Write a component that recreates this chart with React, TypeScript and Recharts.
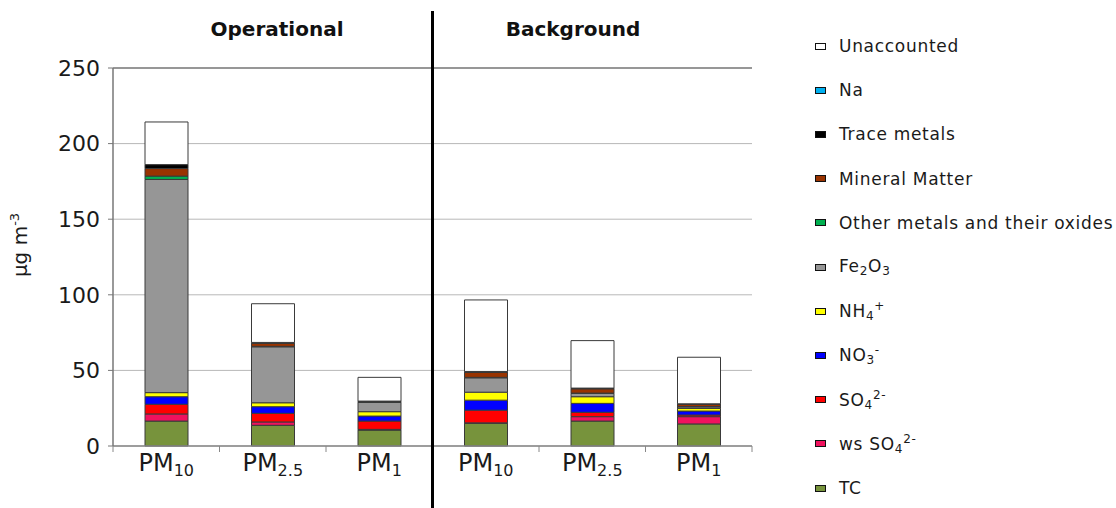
import React from "react";
import {
  BarChart,
  Bar,
  XAxis,
  YAxis,
  CartesianGrid,
  ReferenceLine,
} from "recharts";

// sites / size fractions, left to right
const categories = ["op-PM10", "op-PM2.5", "op-PM1", "bg-PM10", "bg-PM2.5", "bg-PM1"];
const sizeSubs = ["10", "2.5", "1", "10", "2.5", "1"];
const groupTitles = ["Operational", "Background"];
const yTicks = [0, 50, 100, 150, 200, 250];

// µg m-3
const tc = [16.5, 13.7, 10.5, 15, 16.5, 14.6];
const wsSo4 = [4.7, 2.2, 0.5, 0.3, 2.9, 4.8];
const so4 = [6.4, 5.7, 5.5, 8.4, 2.9, 1.1];
const no3 = [5.0, 4.4, 3.3, 6.6, 5.9, 2.6];
const nh4 = [2.7, 2.6, 2.9, 5.3, 4.4, 1.8];
const fe2o3 = [141, 37, 6.2, 9.5, 2.2, 1.0];
const otherMetals = [2.2, 0.3, 0.2, 0.3, 0.2, 0.2];
const mineral = [5.0, 2.0, 0.3, 3.3, 2.8, 1.5];
const traceMetals = [2.6, 0.6, 0.3, 0.6, 0.5, 0.3];
const na = [0, 0, 0, 0, 0, 0];
const unaccounted = [28.2, 25.6, 15.7, 47.3, 31.4, 30.8];

// bottom of the stack first
const series = [
  { key: "tc", label: "TC", color: "#77933C", values: tc },
  { key: "wsSo4", label: "ws SO_4^2-", color: "#F0125E", values: wsSo4 },
  { key: "so4", label: "SO_4^2-", color: "#FF0000", values: so4 },
  { key: "no3", label: "NO_3^-", color: "#0000FF", values: no3 },
  { key: "nh4", label: "NH_4^+", color: "#FFFF00", values: nh4 },
  { key: "fe2o3", label: "Fe_2O_3", color: "#969696", values: fe2o3 },
  { key: "other", label: "Other metals and their oxides", color: "#00B050", values: otherMetals },
  { key: "mineral", label: "Mineral Matter", color: "#993300", values: mineral },
  { key: "trace", label: "Trace metals", color: "#000000", values: traceMetals },
  { key: "na", label: "Na", color: "#00B0F0", values: na },
  { key: "unacc", label: "Unaccounted", color: "#FFFFFF", values: unaccounted },
];

const data = categories.map((c, i) => {
  const row: Record<string, number | string> = { name: c, sub: sizeSubs[i] };
  series.forEach((s) => (row[s.key] = s.values[i]));
  return row;
});

const FONT = "'DejaVu Sans', Verdana, sans-serif";
const BAND = (752 - 113) / categories.length;

// "SO_4^2-" -> SO, sub 4, sup 2-
function renderChem(text: string) {
  return text.split(/(_\d+|\^[\d+\-]+)/).filter(Boolean).map((part, i) => {
    if (part[0] === "_")
      return (
        <sub key={i} style={{ fontSize: 12, verticalAlign: "-3px" }}>
          {part.slice(1)}
        </sub>
      );
    if (part[0] === "^")
      return (
        <sup key={i} style={{ fontSize: 12, verticalAlign: "7px" }}>
          {part.slice(1)}
        </sup>
      );
    return <span key={i}>{part}</span>;
  });
}

const PmTick = (props: any) => {
  const { x, y, index } = props;
  const isLast = index === categories.length - 1;
  return (
    <g>
      <line x1={x - BAND / 2} x2={x - BAND / 2} y1={446} y2={452} stroke="#888" />
      {isLast && <line x1={x + BAND / 2} x2={x + BAND / 2} y1={446} y2={452} stroke="#888" />}
      <text x={x} y={y + 17} textAnchor="middle" fontFamily={FONT} fill="#1a1a1a">
        <tspan fontSize={24}>PM</tspan>
        <tspan fontSize={16} dy={5}>
          {sizeSubs[index]}
        </tspan>
      </text>
    </g>
  );
};

const YLabel = () => (
  <text
    x={27}
    y={245}
    transform="rotate(-90 27 245)"
    textAnchor="middle"
    fontFamily={FONT}
    fontSize={20}
    fill="#1a1a1a"
  >
    µg m<tspan fontSize={13} dy={-8}>-3</tspan>
  </text>
);

export default function App() {
  const legendItems = [...series].reverse();
  return (
    <div
      style={{
        position: "absolute",
        left: 0,
        top: 0,
        width: 1116,
        height: 508,
        background: "#fff",
        overflow: "hidden",
      }}
    >
      <BarChart
        width={1116}
        height={508}
        data={data}
        margin={{ top: 68, right: 364, bottom: 0, left: 0 }}
        barSize={43}
      >
        <CartesianGrid horizontal vertical={false} stroke="#b8b8b8" />
        <XAxis
          dataKey="name"
          height={62}
          axisLine={{ stroke: "#888", strokeWidth: 1.5 }}
          tickLine={false}
          tick={<PmTick />}
          interval={0}
        />
        <YAxis
          width={113}
          domain={[0, 250]}
          ticks={yTicks}
          interval={0}
          axisLine={{ stroke: "#777", strokeWidth: 1.5 }}
          tickLine={{ stroke: "#777" }}
          tickSize={5}
          tickMargin={8}
          tick={{ fontFamily: FONT, fontSize: 22, fill: "#1a1a1a" }}
          label={{ content: <YLabel /> }}
        />
        <YAxis
          yAxisId="r"
          orientation="right"
          width={0}
          domain={[0, 250]}
          tick={false}
          tickLine={false}
          axisLine={{ stroke: "#777", strokeWidth: 1.5 }}
        />
        <ReferenceLine y={250} stroke="#808080" strokeWidth={1.5} />
        {series.map((s) => (
          <Bar
            key={s.key}
            dataKey={s.key}
            stackId="pm"
            fill={s.color}
            stroke="#3a3a3a"
            strokeWidth={1}
            isAnimationActive={false}
          />
        ))}
      </BarChart>

      {/* divider between the two sites */}
      <div
        style={{
          position: "absolute",
          left: 431,
          top: 11,
          width: 3,
          height: 497,
          background: "#000",
        }}
      />

      {groupTitles.map((t, i) => (
        <div
          key={t}
          style={{
            position: "absolute",
            left: i === 0 ? 177 : 473,
            width: 200,
            top: 17,
            textAlign: "center",
            fontFamily: FONT,
            fontWeight: "bold",
            fontSize: 20,
            color: "#111",
          }}
        >
          {t}
        </div>
      ))}

      {legendItems.map((s, i) => (
        <div
          key={s.key}
          style={{
            position: "absolute",
            left: 815,
            top: 46 + i * 44.2 - 12,
            height: 24,
            display: "flex",
            alignItems: "center",
            fontFamily: FONT,
            fontSize: 17,
            letterSpacing: 0.7,
            color: "#1a1a1a",
            whiteSpace: "nowrap",
          }}
        >
          <span
            style={{
              display: "inline-block",
              width: 9,
              height: 5,
              background: s.color,
              border: "1.5px solid #111",
              marginRight: 13,
            }}
          />
          <span>{renderChem(s.label)}</span>
        </div>
      ))}
    </div>
  );
}
